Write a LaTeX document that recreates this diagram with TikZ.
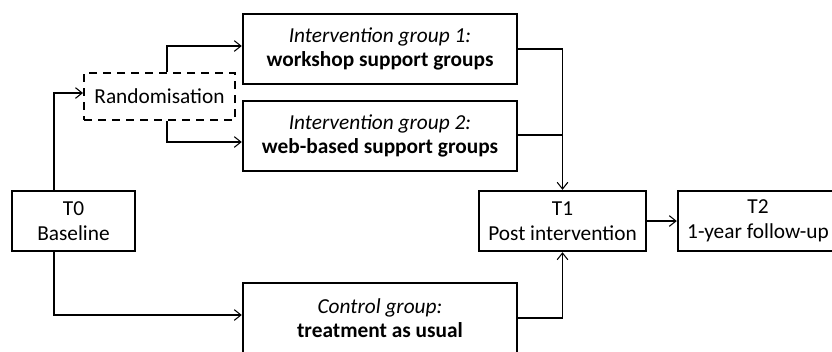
\documentclass[tikz,border=0pt]{standalone}
\usepackage{fontspec}
\setmainfont{Carlito}
\usetikzlibrary{arrows.meta,calc}
\begin{document}
\begin{tikzpicture}[x=0.75pt,y=-0.75pt,
  box/.style={draw=black,line width=1.8pt,inner sep=0pt,align=center,
    font=\fontsize{16}{18.5}\selectfont},
  randbox/.style={box,dashed,dash pattern=on 6pt off 4.5pt,line width=1.5pt},
  conn/.style={line width=0.8pt},
  arr/.style={conn,-{Straight Barb[length=5pt,width=8pt,line width=0.8pt]}}]
\clip (0,0) rectangle (832,351);
\fill[white] (0,0) rectangle (832,351);
\node[box,minimum width=274*0.75pt,minimum height=70*0.75pt] (IG1) at (380,49)
  {\textit{Intervention group 1:}\\\textbf{workshop support groups}};
\node[box,minimum width=274*0.75pt,minimum height=70*0.75pt] (IG2) at (380,136)
  {\textit{Intervention group 2:}\\\textbf{web-based support groups}};
\node[randbox,minimum width=151*0.75pt,minimum height=47*0.75pt] (R) at (159.5,96.5)
  {Randomisation};
\node[box,minimum width=123*0.75pt,minimum height=60*0.75pt] (T0) at (73.5,221)
  {T0\\Baseline};
\node[box,minimum width=274*0.75pt,minimum height=70*0.75pt] (C) at (380,318)
  {\textit{Control group:}\\\textbf{treatment as usual}};
\node[box,minimum width=167*0.75pt,minimum height=60*0.75pt] (T1) at (562.5,221)
  {T1\\Post intervention};
\node[box,minimum width=160*0.75pt,minimum height=60*0.75pt] (T2) at (758,221)
  {T2\\1-year follow-up};
% connectors
\draw[arr] ($(T0.north)+(-19.5,0)$) |- ($(R.west)+(0,-3.5)$);
\draw[arr] ($(R.north)+(7.5,0)$) |- ($(IG1.west)+(0,-3)$);
\draw[arr] ($(R.south)+(7.5,0)$) |- ($(IG2.west)+(0,6)$);
\draw[arr] ($(T0.south)+(-19.5,0)$) |- ($(C.west)+(0,-3)$);
\draw[arr] (IG1.east) -| (T1.north);
\draw[conn] ($(IG2.east)+(0,-1)$) -- ($(IG2.east -| T1.north)+(0,-1)$);
\draw[arr] (C.east) -| (T1.south);
\draw[arr] (T1.east) -- (T2.west);
\end{tikzpicture}
\end{document}
